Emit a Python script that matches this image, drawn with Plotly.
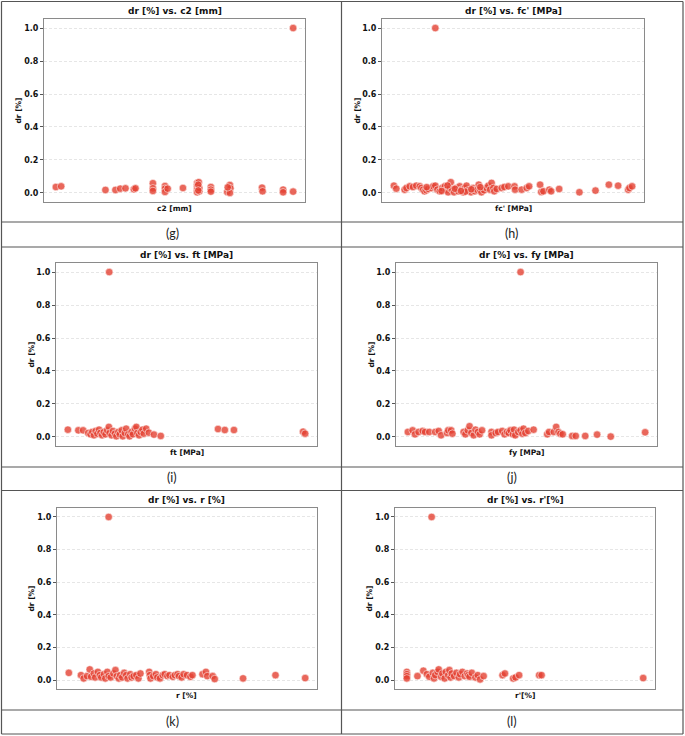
import plotly.graph_objects as go

W, H = 685, 736

# ---------------- data ----------------
c2_mm = [150, 160, 244, 263, 272, 282, 298, 301, 334, 334, 334, 357, 357, 357, 362, 391,
         418, 421, 418, 418, 418, 422, 422, 420, 420, 444, 444, 444, 480, 481, 475, 480, 476,
         541, 542, 581, 581, 600, 600]
dr_g = [0.036, 0.040, 0.018, 0.018, 0.026, 0.028, 0.022, 0.028, 0.059, 0.028, 0.012, 0.042, 0.026, 0.006, 0.026, 0.030,
        0.060, 0.065, 0.040, 0.020, 0.004, 0.010, 0.030, 0.050, 0.015, 0.036, 0.020, 0.008, 0.048, 0.028, 0.006, 0.000, 0.034,
        0.032, 0.010, 0.020, 0.004, 0.008, 1.000]

fc_mpa = [20.0, 20.8, 23.6, 24.2, 25.3, 26.4, 27.5, 28.7, 29.2, 29.8, 30.3, 30.9, 31.5, 32.6, 33.2, 33.9,
          34.6, 35.4, 36.2, 37.1, 37.6, 38.2, 38.8, 39.1, 39.6, 40.2, 41.0, 41.6, 42.1, 42.7, 43.3, 43.8,
          44.4, 45.0, 45.9, 46.6, 47.2, 47.8, 48.5, 48.9, 49.4, 50.3, 51.1, 51.7, 52.3, 52.8, 53.4, 53.7,
          54.5, 56.2, 57.1, 58.4, 60.5, 60.7, 62.9, 64.6, 65.4, 69.1, 69.5, 70.2, 72.2, 72.8, 75.5, 82.3,
          87.7, 92.2, 95.3, 98.7, 99.1, 100.0, 31.0, 36.0, 40.5, 44.0, 46.0, 49.0, 42.5, 38.0, 33.9]
dr_h = [0.044, 0.026, 0.020, 0.030, 0.040, 0.036, 0.044, 0.040, 0.030, 0.020, 0.010, 0.016, 0.024, 0.030, 0.040, 0.044,
        0.020, 0.010, 0.030, 0.040, 0.020, 0.004, 0.030, 0.065, 0.020, 0.004, 0.030, 0.010, 0.040, 0.020, 0.004, 0.030,
        0.044, 0.016, 0.004, 0.030, 0.010, 0.020, 0.050, 0.020, 0.004, 0.016, 0.030, 0.044, 0.020, 0.061, 0.030, 0.010,
        0.024, 0.030, 0.036, 0.040, 0.040, 0.020, 0.020, 0.030, 0.040, 0.050, 0.006, 0.010, 0.020, 0.010, 0.024, 0.004,
        0.014, 0.050, 0.044, 0.020, 0.030, 0.040, 0.035, 0.012, 0.025, 0.008, 0.022, 0.035, 0.012, 0.045, 1.000]

ft_mpa = [2.00, 2.31, 2.45, 2.60, 2.67, 2.72, 2.77, 2.82, 2.87, 2.92, 2.96, 3.01, 3.06, 3.11, 3.16, 3.21,
          3.23, 3.29, 3.33, 3.39, 3.43, 3.49, 3.53, 3.59, 3.62, 3.68, 3.72, 3.78, 3.82, 3.88, 3.92, 3.98,
          4.02, 4.05, 4.10, 4.15, 4.20, 4.24, 4.31, 4.39, 4.54, 4.74, 6.43, 6.63, 6.90, 8.94, 9.00, 3.22]
dr_i = [0.044, 0.040, 0.040, 0.024, 0.016, 0.030, 0.010, 0.036, 0.020, 0.044, 0.024, 0.010, 0.030, 0.016, 0.040, 0.061,
        0.024, 0.010, 0.036, 0.020, 0.004, 0.030, 0.016, 0.040, 0.004, 0.024, 0.050, 0.016, 0.004, 0.030, 0.016, 0.050,
        0.061, 0.024, 0.010, 0.030, 0.044, 0.020, 0.050, 0.026, 0.014, 0.006, 0.048, 0.042, 0.042, 0.032, 0.020, 1.000]

fy_mpa = [300, 308, 312, 318, 325, 329, 336, 346, 352, 356, 366, 368, 373, 375, 394, 397,
          401, 404, 407, 411, 414, 418, 421, 425, 441, 441, 448, 452, 459, 463, 467, 470,
          473, 477, 479, 481, 486, 490, 493, 495, 498, 503, 512, 535, 538, 546, 550, 554,
          557, 561, 577, 583, 599, 619, 642, 700, 490]
dr_j = [0.030, 0.040, 0.016, 0.030, 0.036, 0.030, 0.030, 0.030, 0.036, 0.010, 0.024, 0.040, 0.040, 0.020, 0.030, 0.016,
        0.040, 0.065, 0.024, 0.010, 0.044, 0.030, 0.016, 0.040, 0.030, 0.010, 0.024, 0.030, 0.036, 0.016, 0.030, 0.024,
        0.040, 0.016, 0.044, 0.010, 0.030, 0.040, 0.020, 0.050, 0.024, 0.036, 0.044, 0.016, 0.030, 0.030, 0.061, 0.030,
        0.020, 0.016, 0.006, 0.006, 0.006, 0.014, 0.002, 0.028, 1.000]

r_pct = [0.50, 0.68, 0.72, 0.77, 0.81, 0.83, 0.87, 0.89, 0.93, 0.96, 0.98, 1.02, 1.04, 1.07, 1.09, 1.12,
         1.16, 1.19, 1.21, 1.24, 1.26, 1.29, 1.32, 1.35, 1.37, 1.41, 1.43, 1.46, 1.50, 1.53, 1.56, 1.69,
         1.70, 1.71, 1.75, 1.79, 1.81, 1.85, 1.89, 1.92, 1.96, 1.99, 2.04, 2.07, 2.11, 2.13, 2.17, 2.20,
         2.25, 2.30, 2.33, 2.48, 2.53, 2.55, 2.63, 2.66, 3.08, 3.56, 4.00, 1.09]
dr_k = [0.044, 0.030, 0.010, 0.024, 0.065, 0.020, 0.040, 0.016, 0.050, 0.030, 0.016, 0.036, 0.010, 0.050, 0.024, 0.016,
        0.040, 0.061, 0.024, 0.010, 0.030, 0.016, 0.044, 0.030, 0.010, 0.036, 0.016, 0.024, 0.030, 0.010, 0.040, 0.050,
        0.030, 0.010, 0.024, 0.036, 0.016, 0.010, 0.030, 0.036, 0.024, 0.030, 0.020, 0.030, 0.036, 0.024, 0.016, 0.036,
        0.030, 0.020, 0.030, 0.036, 0.050, 0.024, 0.024, 0.006, 0.010, 0.030, 0.012, 1.000]

rp_pct = [0.00, 0.00, 0.00, 0.00, 0.09, 0.14, 0.17, 0.19, 0.22, 0.23, 0.24, 0.26, 0.27, 0.29, 0.30, 0.32,
          0.33, 0.35, 0.36, 0.37, 0.38, 0.40, 0.42, 0.44, 0.45, 0.47, 0.49, 0.51, 0.52, 0.53, 0.55, 0.58,
          0.60, 0.62, 0.65, 0.81, 0.83, 0.90, 0.92, 0.95, 1.12, 1.14, 2.00, 0.21]
dr_l = [0.050, 0.036, 0.024, 0.010, 0.024, 0.057, 0.036, 0.020, 0.044, 0.010, 0.030, 0.050, 0.065, 0.020, 0.040, 0.010,
        0.050, 0.030, 0.061, 0.016, 0.040, 0.024, 0.044, 0.016, 0.036, 0.050, 0.024, 0.040, 0.030, 0.020, 0.044, 0.016,
        0.030, 0.004, 0.024, 0.030, 0.040, 0.010, 0.016, 0.030, 0.030, 0.030, 0.012, 1.000]

titles = ["dr [%] vs. c2 [mm]", "dr [%] vs. fc' [MPa]", "dr [%] vs. ft [MPa]",
          "dr [%] vs. fy [MPa]", "dr [%] vs. r [%]", "dr [%] vs. r'[%]"]
xlabels = ["c2 [mm]", "fc' [MPa]", "ft [MPa]", "fy [MPa]", "r [%]", "r'[%]"]
captions = ["(g)", "(h)", "(i)", "(j)", "(k)", "(l)"]
ylabel = "dr [%]"
yticks = [0.0, 0.2, 0.4, 0.6, 0.8, 1.0]

xs = [c2_mm, fc_mpa, ft_mpa, fy_mpa, r_pct, rp_pct]
ys = [dr_g, dr_h, dr_i, dr_j, dr_k, dr_l]

# ---------------- layout in pixels ----------------
frames = [(44, 305, 19, 202), (382, 644, 19, 202),
          (56, 317, 263, 446), (396, 657, 263, 446),
          (57, 317, 508, 689), (395, 655, 508, 689)]
ylab_x = [18, 357, 31, 371, 31, 369]
caption_y = [233, 233, 477, 477, 721, 721]
col_cx = [172, 512]

def px(x):
    return x / W

def py(y):
    return 1 - y / H

fig = go.Figure()
FONT = "DejaVu Sans"
annotations = []
shapes = []

def ann(text, x, y, size, family=FONT, weight="bold", angle=0, color="#111"):
    return dict(text=text, x=px(x), y=py(y), xref="paper", yref="paper",
                xanchor="center", yanchor="middle", textangle=angle, showarrow=False,
                font=dict(family=family, size=size, color=color, weight=weight))

for i in range(6):
    L, R, T, B = frames[i]
    n = "" if i == 0 else str(i + 1)
    fig.add_trace(go.Scatter(
        x=xs[i], y=ys[i], mode="markers", xaxis="x" + n, yaxis="y" + n,
        marker=dict(size=7.5, color="rgba(228,65,50,0.8)",
                    line=dict(color="rgba(255,255,255,0.9)", width=0.6)),
        showlegend=False, hoverinfo="x+y"))
    xmin, xmax = min(xs[i]), max(xs[i])
    span = xmax - xmin
    fig.layout["xaxis" + n] = dict(
        domain=[px(L), px(R)], anchor="y" + n, range=[xmin - 0.05 * span, xmax + 0.05 * span],
        showticklabels=False, ticks="", showgrid=False, zeroline=False,
        showline=True, mirror=True, linecolor="#8a8a8a", linewidth=1)
    fig.layout["yaxis" + n] = dict(
        domain=[py(B), py(T)], anchor="x" + n, range=[-0.055, 1.055],
        tickvals=yticks, ticktext=[f"{v:.1f}" for v in yticks],
        tickfont=dict(family=FONT, size=8, color="#111", weight="bold"),
        ticks="outside", ticklen=3, tickcolor="#555", tickwidth=0.8,
        showgrid=True, gridcolor="#e6e6e6", griddash="3px,2px", gridwidth=0.8,
        zeroline=False, showline=True, mirror=True, linecolor="#8a8a8a", linewidth=1)
    cx = (L + R) / 2
    annotations.append(ann(titles[i], cx, T - 8, 9))
    annotations.append(ann(xlabels[i], cx, B + 6.5, 7.5))
    annotations.append(ann(ylabel, ylab_x[i], (T + B) / 2, 7.5, angle=-90))
    annotations.append(ann(captions[i], col_cx[i % 2], caption_y[i], 12.5,
                           family="Lato", weight="normal", color="#222"))

# table lines
line_style = dict(color="#555", width=1.2)
for yv in [1.5, 222, 247, 467, 490.5, 710, 734]:
    shapes.append(dict(type="line", xref="paper", yref="paper", x0=px(1.5), x1=px(683),
                       y0=py(yv), y1=py(yv), line=line_style))
for xv in [1.5, 341.5, 683]:
    shapes.append(dict(type="line", xref="paper", yref="paper", x0=px(xv), x1=px(xv),
                       y0=py(1.5), y1=py(734), line=line_style))

fig.update_layout(width=W, height=H, margin=dict(l=0, r=0, t=0, b=0),
                  paper_bgcolor="white", plot_bgcolor="white",
                  annotations=annotations, shapes=shapes)

fig.write_html("out.html")
